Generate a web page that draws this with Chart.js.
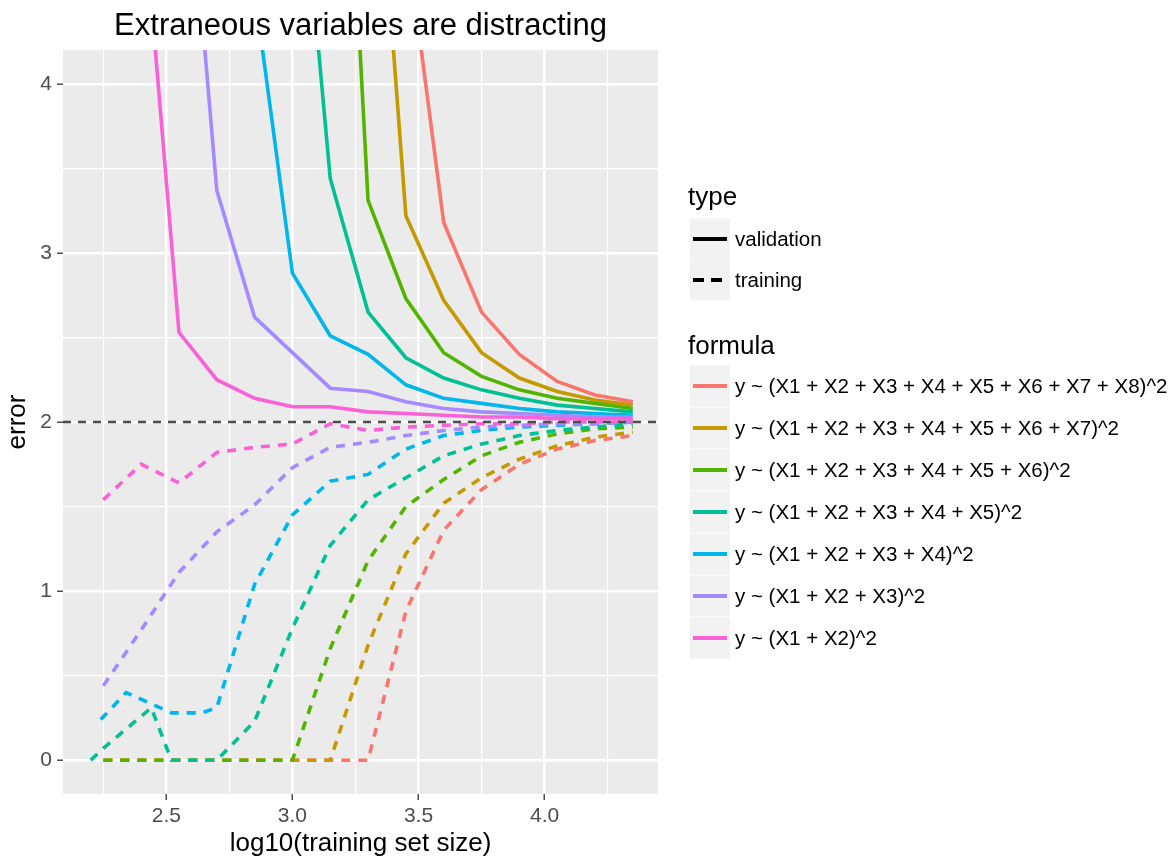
<!DOCTYPE html>
<html>
<head>
<meta charset="utf-8">
<script src="https://cdn.jsdelivr.net/npm/chart.js@4.4.1/dist/chart.umd.min.js"></script>
<style>
  html, body { margin: 0; padding: 0; background: #fff; }
  canvas { display: block; }
</style>
</head>
<body>
<canvas id="chart" width="1174" height="859"></canvas>
<script>
// log10(training set size) sample points
const logSize = [2.25, 2.4, 2.55, 2.7, 2.85, 3.0, 3.15, 3.3, 3.45, 3.6, 3.75, 3.9, 4.05, 4.2, 4.35];
// the two smaller-model training curves have their own early sample points
const logSizeX5 = [2.2, 2.25, 2.44, 2.52, 2.7, 2.85, 3.0, 3.15, 3.3, 3.45, 3.6, 3.75, 3.9, 4.05, 4.2, 4.35];
const logSizeX4 = [2.24, 2.34, 2.52, 2.64, 2.7, 2.85, 3.0, 3.15, 3.3, 3.45, 3.6, 3.75, 3.9, 4.05, 4.2, 4.35];

const formulas = [
  "y ~ (X1 + X2 + X3 + X4 + X5 + X6 + X7 + X8)^2",
  "y ~ (X1 + X2 + X3 + X4 + X5 + X6 + X7)^2",
  "y ~ (X1 + X2 + X3 + X4 + X5 + X6)^2",
  "y ~ (X1 + X2 + X3 + X4 + X5)^2",
  "y ~ (X1 + X2 + X3 + X4)^2",
  "y ~ (X1 + X2 + X3)^2",
  "y ~ (X1 + X2)^2"
];
const colors = ["#F8766D", "#C49A00", "#53B400", "#00C094", "#00B6EB", "#A58AFF", "#FB61D7"];

// validation error (values above the plot window are not readable -> null)
const validX8 = [null, null, null, null, null, null, null, null, 4.9, 3.18, 2.65, 2.40, 2.24, 2.16, 2.12];
const validX7 = [null, null, null, null, null, null, null, 6.2, 3.22, 2.72, 2.41, 2.26, 2.18, 2.13, 2.10];
const validX6 = [null, null, null, null, null, null, 7.5, 3.31, 2.73, 2.41, 2.27, 2.19, 2.14, 2.11, 2.08];
const validX5 = [null, null, null, null, null, 5.9, 3.44, 2.65, 2.38, 2.26, 2.19, 2.14, 2.10, 2.08, 2.06];
const validX4 = [null, null, null, null, 4.55, 2.88, 2.51, 2.40, 2.22, 2.14, 2.11, 2.08, 2.06, 2.05, 2.04];
const validX3 = [null, null, 6.0, 3.37, 2.62, 2.41, 2.20, 2.18, 2.12, 2.08, 2.06, 2.05, 2.04, 2.03, 2.03];
const validX2 = [null, 5.2, 2.53, 2.25, 2.14, 2.09, 2.09, 2.06, 2.05, 2.04, 2.03, 2.03, 2.02, 2.02, 2.02];

// training error
const trainX8 = [0, 0, 0, 0, 0, 0, 0, 0, 0.88, 1.36, 1.60, 1.75, 1.84, 1.89, 1.92];
const trainX7 = [0, 0, 0, 0, 0, 0, 0, 0.68, 1.22, 1.52, 1.67, 1.78, 1.86, 1.91, 1.94];
const trainX6 = [0, 0, 0, 0, 0, 0, 0.66, 1.18, 1.50, 1.66, 1.80, 1.88, 1.93, 1.96, 1.97];
const trainX5 = [0, 0.07, 0.31, 0, 0, 0.23, 0.78, 1.27, 1.54, 1.67, 1.80, 1.87, 1.92, 1.95, 1.97, 1.99];
const trainX4 = [0.24, 0.40, 0.28, 0.28, 0.31, 1.04, 1.45, 1.65, 1.69, 1.84, 1.92, 1.95, 1.97, 1.98, 1.99, 2.0];
const trainX3 = [0.44, 0.77, 1.11, 1.35, 1.51, 1.73, 1.85, 1.88, 1.92, 1.95, 1.97, 1.98, 1.99, 1.99, 2.0];
const trainX2 = [1.54, 1.75, 1.64, 1.82, 1.85, 1.87, 1.99, 1.95, 1.97, 1.98, 1.99, 1.99, 2.0, 2.0, 2.0];

const refError = 2;
const xMin = 2.09, xMax = 4.45;
const yMin = -0.2, yMax = 4.2;

const validation = [validX8, validX7, validX6, validX5, validX4, validX3, validX2];
const training = [trainX8, trainX7, trainX6, trainX5, trainX4, trainX3, trainX2];
const trainingX = [logSize, logSize, logSize, logSizeX5, logSizeX4, logSize, logSize];

const FONT = "'Liberation Sans', Arial, Helvetica, sans-serif";
const toPoints = (xs, ys) => ys.map((y, i) => ({ x: xs[i], y: y }));

const datasets = [{
  label: "ref",
  data: [{ x: xMin, y: refError }, { x: xMax, y: refError }],
  borderColor: "#4D4D4D",
  borderWidth: 2.5,
  borderDash: [8, 7],
  pointRadius: 0,
  order: 0
}];
// last formula (pink) drawn on top, as in ggplot
for (let k = formulas.length - 1; k >= 0; k--) {
  datasets.push({
    label: formulas[k] + " validation",
    data: toPoints(logSize, validation[k]),
    borderColor: colors[k],
    borderWidth: 3.6,
    pointRadius: 0,
    spanGaps: false,
    order: 1 + (formulas.length - 1 - k) * 2
  });
  datasets.push({
    label: formulas[k] + " training",
    data: toPoints(trainingX[k], training[k]),
    borderColor: colors[k],
    borderWidth: 3.6,
    borderDash: [9, 8],
    borderCapStyle: "butt",
    pointRadius: 0,
    order: 2 + (formulas.length - 1 - k) * 2
  });
}

const isMajorX = (v) => Math.abs(v * 2 - Math.round(v * 2)) < 1e-6;
const isMajorY = (v) => Math.abs(v - Math.round(v)) < 1e-6;

const ggDecor = {
  id: "ggDecor",
  beforeDraw(chart) {
    const { ctx, chartArea: a } = chart;
    ctx.save();
    ctx.fillStyle = "#EBEBEB";
    ctx.fillRect(a.left, a.top, a.right - a.left, a.bottom - a.top);
    ctx.restore();
  },
  afterDraw(chart) {
    const { ctx, chartArea: a } = chart;
    ctx.save();
    ctx.fillStyle = "#000";
    ctx.textBaseline = "middle";
    ctx.textAlign = "center";
    ctx.font = "31px " + FONT;
    ctx.fillText("Extraneous variables are distracting", (a.left + a.right) / 2, 26);

    // legend
    ctx.textAlign = "left";
    const keyX = 690, keyW = 40, keyH = 41;
    const row = (cy, color, dash, text) => {
      ctx.fillStyle = "#F2F2F2";
      ctx.fillRect(keyX, cy - keyH / 2, keyW, keyH);
      ctx.beginPath();
      ctx.setLineDash(dash);
      ctx.lineDashOffset = 0;
      ctx.strokeStyle = color;
      ctx.lineWidth = 4;
      ctx.lineCap = "butt";
      ctx.moveTo(keyX + 3, cy);
      ctx.lineTo(keyX + 37, cy);
      ctx.stroke();
      ctx.setLineDash([]);
      ctx.fillStyle = "#000";
      ctx.font = "20.5px " + FONT;
      ctx.fillText(text, 735, cy + 1);
    };
    ctx.fillStyle = "#000";
    ctx.font = "26px " + FONT;
    ctx.fillText("type", 688, 198);
    row(239, "#000", [], "validation");
    row(280, "#000", [11, 7], "training");

    ctx.fillStyle = "#000";
    ctx.font = "26px " + FONT;
    ctx.fillText("formula", 688, 347);
    const rowY = [386, 428, 470, 512, 554, 596, 638];
    formulas.forEach((f, k) => row(rowY[k], colors[k], [], f));
    ctx.restore();
  }
};

new Chart(document.getElementById("chart"), {
  type: "line",
  data: { datasets },
  plugins: [ggDecor],
  options: {
    responsive: false,
    animation: false,
    events: [],
    layout: { padding: { left: 2, right: 1174 - 658, top: 50, bottom: 0 } },
    plugins: { legend: { display: false }, tooltip: { enabled: false }, title: { display: false } },
    elements: { line: { tension: 0, fill: false } },
    scales: {
      x: {
        type: "linear",
        min: xMin,
        max: xMax,
        afterFit: (s) => { s.height = 859 - 794; },
        border: { display: false },
        grid: {
          color: "#FFFFFF",
          lineWidth: (c) => (isMajorX(c.tick.value) ? 2.4 : 1.2),
          tickColor: (c) => (isMajorX(c.tick.value) ? "#333333" : "rgba(0,0,0,0)"),
          tickLength: 6,
          tickWidth: 1.3
        },
        ticks: {
          stepSize: 0.25,
          includeBounds: false,
          autoSkip: false,
          maxRotation: 0,
          padding: 4,
          color: "#4D4D4D",
          font: { family: FONT, size: 21 },
          callback: (v) => (isMajorX(v) ? v.toFixed(1) : "")
        },
        title: {
          display: true,
          text: "log10(training set size)",
          color: "#000",
          font: { family: FONT, size: 26 },
          padding: 0
        }
      },
      y: {
        type: "linear",
        min: yMin,
        max: yMax,
        afterFit: (s) => { s.width = 63 - 2; },
        border: { display: false },
        grid: {
          color: "#FFFFFF",
          lineWidth: (c) => (isMajorY(c.tick.value) ? 2.4 : 1.2),
          tickColor: (c) => (isMajorY(c.tick.value) ? "#333333" : "rgba(0,0,0,0)"),
          tickLength: 6,
          tickWidth: 1.3
        },
        ticks: {
          stepSize: 0.5,
          includeBounds: false,
          autoSkip: false,
          padding: 5,
          color: "#4D4D4D",
          font: { family: FONT, size: 21 },
          callback: (v) => (isMajorY(v) ? String(Math.round(v)) : "")
        },
        title: {
          display: true,
          text: "error",
          color: "#000",
          font: { family: FONT, size: 26 },
          padding: 0
        }
      }
    }
  }
});
</script>
</body>
</html>
